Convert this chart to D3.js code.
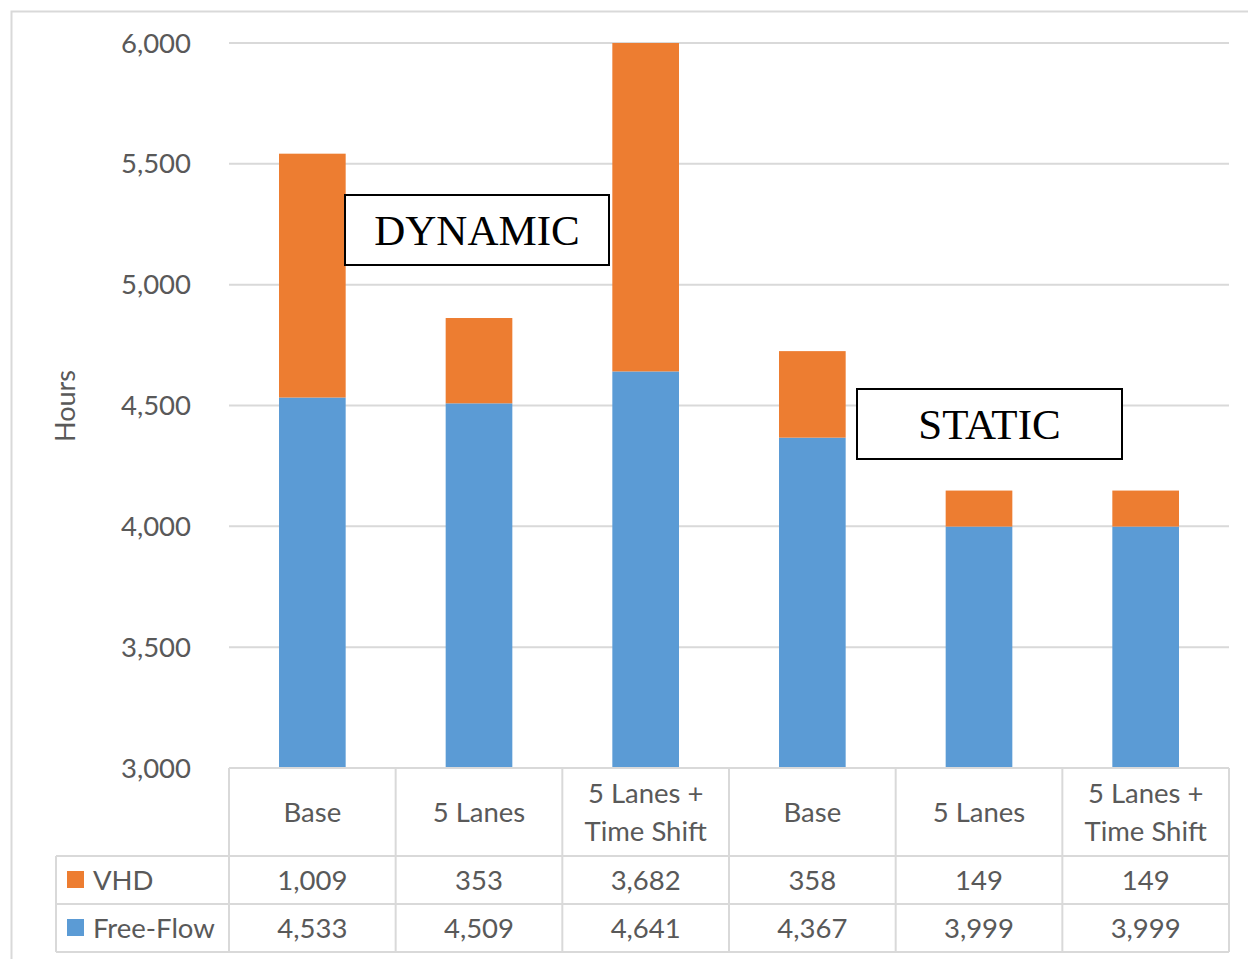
<!DOCTYPE html>
<html>
<head>
<meta charset="utf-8">
<script src="https://cdn.jsdelivr.net/npm/d3@7"></script>
<style>
  body { margin: 0; background: #fff; }
  svg { display: block; font-family: Lato, "Open Sans", sans-serif; }
</style>
</head>
<body>
<svg id="chart" width="1248" height="959"></svg>
<script>
// Categories (two lines each in the table header)
const categories = [
  ["Base"],
  ["5 Lanes"],
  ["5 Lanes +", "Time Shift"],
  ["Base"],
  ["5 Lanes"],
  ["5 Lanes +", "Time Shift"]
];
const freeFlow = [4533, 4509, 4641, 4367, 3999, 3999];
const vhd = [1009, 353, 3682, 358, 149, 149];
const yTicks = [3000, 3500, 4000, 4500, 5000, 5500, 6000];
const colors = { "VHD": "#ED7D31", "Free-Flow": "#5B9BD5" };

const svg = d3.select("#chart");
const grey = "#595959";
const lineGrey = "#d9d9d9";
const fs = 27.5;

// outer chart border
svg.append("rect")
  .attr("x", 11.5).attr("y", 11.5)
  .attr("width", 1260).attr("height", 980)
  .attr("fill", "none").attr("stroke", lineGrey).attr("stroke-width", 2);

const plot = { left: 229, right: 1229, top: 43, bottom: 768 };

const x = d3.scaleBand()
  .domain(d3.range(categories.length))
  .range([plot.left, plot.right])
  .paddingInner(0).paddingOuter(0);

const y = d3.scaleLinear()
  .domain([3000, 6000])
  .range([plot.bottom, plot.top])
  .clamp(true);

// gridlines
svg.append("g")
  .selectAll("line")
  .data(yTicks)
  .join("line")
  .attr("x1", plot.left).attr("x2", plot.right)
  .attr("y1", d => y(d)).attr("y2", d => y(d))
  .attr("stroke", lineGrey).attr("stroke-width", 2);

// y axis labels
const fmt = d3.format(",");
svg.append("g")
  .selectAll("text")
  .data(yTicks)
  .join("text")
  .attr("x", 191)
  .attr("y", d => y(d))
  .attr("dy", "0.35em")
  .attr("text-anchor", "end")
  .attr("fill", grey)
  .attr("font-size", fs)
  .text(d => fmt(d));

svg.append("text")
  .attr("transform", "translate(75,406) rotate(-90)")
  .attr("text-anchor", "middle")
  .attr("fill", grey)
  .attr("font-size", 27)
  .text("Hours");

// stacked bars
const rows = categories.map((c, i) => ({ i, "Free-Flow": freeFlow[i], "VHD": vhd[i] }));
const stack = d3.stack().keys(["Free-Flow", "VHD"])(rows);
const barW = x.bandwidth() * 0.4;

svg.append("g")
  .selectAll("g")
  .data(stack)
  .join("g")
  .attr("fill", d => colors[d.key])
  .selectAll("rect")
  .data(d => d)
  .join("rect")
  .attr("x", d => x(d.data.i) + (x.bandwidth() - barW) / 2)
  .attr("width", barW)
  .attr("y", d => y(d[1]))
  .attr("height", d => y(d[0]) - y(d[1]));

// data table
const tbl = { head: 768, r1: 856, r2: 904, r3: 952, left: 56 };
const tg = svg.append("g").attr("stroke", lineGrey).attr("stroke-width", 2);
// vertical lines
d3.range(categories.length + 1).forEach(k => {
  const xx = k < categories.length ? x(k) : plot.right;
  tg.append("line").attr("x1", xx).attr("x2", xx).attr("y1", tbl.head).attr("y2", tbl.r3);
});
tg.append("line").attr("x1", tbl.left).attr("x2", tbl.left).attr("y1", tbl.r1).attr("y2", tbl.r3);
// horizontal lines
tg.append("line").attr("x1", plot.left).attr("x2", plot.right).attr("y1", tbl.head).attr("y2", tbl.head);
[tbl.r1, tbl.r2, tbl.r3].forEach(yy => {
  tg.append("line").attr("x1", tbl.left).attr("x2", plot.right).attr("y1", yy).attr("y2", yy);
});

// header text
categories.forEach((lines, i) => {
  const cx = x(i) + x.bandwidth() / 2;
  const mid = (tbl.head + tbl.r1) / 2;
  const t = svg.append("text")
    .attr("text-anchor", "middle")
    .attr("fill", grey)
    .attr("font-size", fs);
  lines.forEach((ln, j) => {
    t.append("tspan")
      .attr("x", cx)
      .attr("y", mid + (j - (lines.length - 1) / 2) * 38)
      .attr("dy", "0.35em")
      .text(ln);
  });
});

// value rows
const rowData = [
  { name: "VHD", values: vhd, top: tbl.r1, bottom: tbl.r2 },
  { name: "Free-Flow", values: freeFlow, top: tbl.r2, bottom: tbl.r3 }
];
rowData.forEach(r => {
  const mid = (r.top + r.bottom) / 2;
  svg.append("rect")
    .attr("x", 67).attr("y", mid - 9)
    .attr("width", 17).attr("height", 17)
    .attr("fill", colors[r.name]);
  svg.append("text")
    .attr("x", 93).attr("y", mid).attr("dy", "0.35em")
    .attr("fill", grey).attr("font-size", fs)
    .text(r.name);
  svg.append("g")
    .selectAll("text")
    .data(r.values)
    .join("text")
    .attr("x", (d, i) => x(i) + x.bandwidth() / 2)
    .attr("y", mid).attr("dy", "0.35em")
    .attr("text-anchor", "middle")
    .attr("fill", grey).attr("font-size", fs)
    .text(d => fmt(d));
});

// annotation boxes
const notes = [
  { label: "DYNAMIC", x: 345, y: 195, w: 264, h: 70 },
  { label: "STATIC", x: 857, y: 389, w: 265, h: 70 }
];
notes.forEach(n => {
  svg.append("rect")
    .attr("x", n.x).attr("y", n.y).attr("width", n.w).attr("height", n.h)
    .attr("fill", "#fff").attr("stroke", "#000").attr("stroke-width", 2);
  svg.append("text")
    .attr("x", n.x + n.w / 2).attr("y", n.y + n.h / 2).attr("dy", "0.35em")
    .attr("text-anchor", "middle")
    .attr("font-family", "'Liberation Serif', 'Times New Roman', serif")
    .attr("font-size", 43)
    .attr("fill", "#000")
    .text(n.label);
});
</script>
</body>
</html>
